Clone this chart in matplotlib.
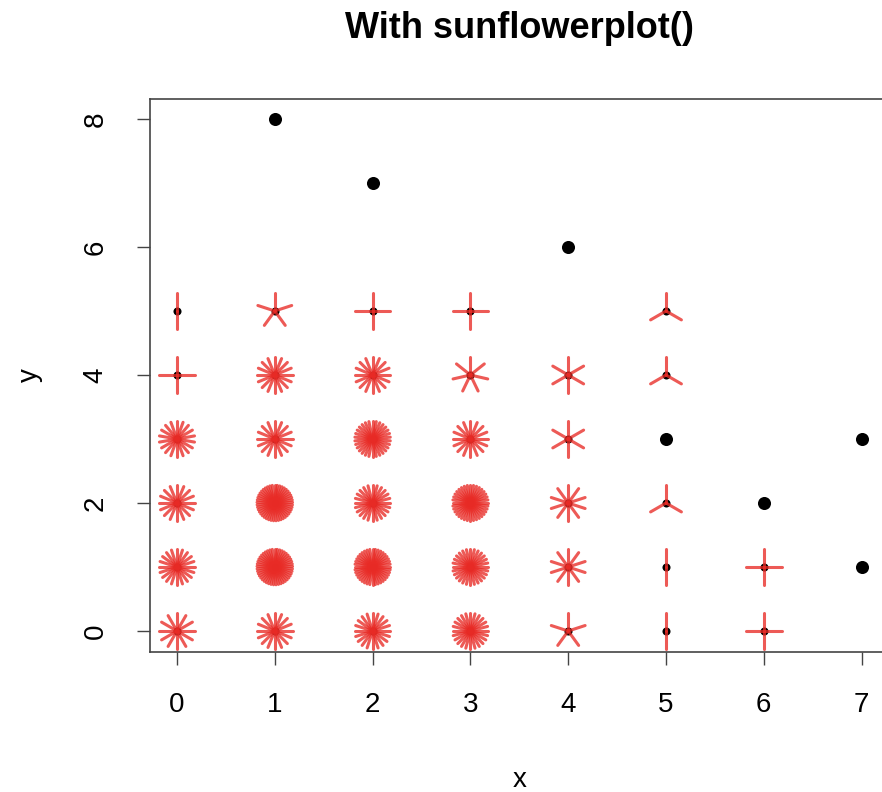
import numpy as np
import matplotlib
matplotlib.use("Agg")
import matplotlib.pyplot as plt
from matplotlib.collections import LineCollection
import matplotlib.transforms as mtransforms

plt.rcParams['font.family'] = ['Liberation Sans', 'DejaVu Sans']

# data: (x, y, count)
xs     = [0, 1, 2, 3, 4, 5, 6,
          0, 1, 2, 3, 4, 5, 6, 7,
          0, 1, 2, 3, 4, 5, 6,
          0, 1, 2, 3, 4, 5, 7,
          0, 1, 2, 3, 4, 5,
          0, 1, 2, 3, 5,
          4, 2, 1]
ys     = [0, 0, 0, 0, 0, 0, 0,
          1, 1, 1, 1, 1, 1, 1, 1,
          2, 2, 2, 2, 2, 2, 2,
          3, 3, 3, 3, 3, 3, 3,
          4, 4, 4, 4, 4, 4,
          5, 5, 5, 5, 5,
          6, 7, 8]
counts = [12, 16, 20, 24, 5, 2, 4,
          20, 45, 40, 28, 10, 2, 4, 1,
          16, 45, 24, 36, 10, 3, 1,
          18, 16, 30, 16, 6, 1, 1,
          4, 16, 16, 7, 6, 3,
          2, 5, 4, 4, 3,
          1, 1, 1]
x_ticks = [0, 1, 2, 3, 4, 5, 6, 7]
y_ticks = [0, 2, 4, 6, 8]
title = "With sunflowerplot()"

W, H = 882, 792
fig = plt.figure(figsize=(W / 100, H / 100), dpi=100)
left, right, top, bottom = 149.6, 889.0, 98.5, 651.5
ax = fig.add_axes([left / W, 1 - bottom / H, (right - left) / W, (bottom - top) / H])

ax.set_xlim(-0.28, 7.28)
ax.set_ylim(-0.32, 8.32)

xs_a = np.array(xs, float)
ys_a = np.array(ys, float)
cn = np.array(counts)

single = cn == 1
ax.plot(xs_a[single], ys_a[single], 'o', color='black', ms=9.4, mew=0, zorder=3)
ax.plot(xs_a[~single], ys_a[~single], 'o', color='black', ms=5.8, mew=0, zorder=3)

petal_len = 12.8  # points
segs = []
offs = []
for x, y, n in zip(xs_a, ys_a, cn):
    if n < 2:
        continue
    for k in range(1, n + 1):
        a = 2 * np.pi * k / n
        segs.append([(0, 0), (petal_len * np.sin(a), petal_len * np.cos(a))])
        offs.append((x, y))
pt_trans = mtransforms.Affine2D().scale(fig.dpi / 72.0)
lc = LineCollection(segs, offsets=offs, offset_transform=ax.transData,
                    transform=pt_trans, colors=[(0.91, 0.17, 0.15, 0.78)],
                    linewidths=2.2, capstyle='round', zorder=4)
ax.add_collection(lc)

for s in ax.spines.values():
    s.set_color('#444444')
    s.set_linewidth(1.2)

ax.set_xticks(x_ticks)
ax.set_yticks(y_ticks)
ax.set_xticklabels([str(v) for v in x_ticks])
ax.set_yticklabels([str(v) for v in y_ticks], rotation=90, va='center')
ax.tick_params(axis='both', direction='out', length=9.5, width=1.0, color='#444444',
               labelsize=20, pad=20)

fig.text((left + right) / 2 / W, 1 - 29 / H, title, ha='center', va='center',
         fontsize=26, fontweight='bold')
fig.text((left + right) / 2 / W, 1 - 780 / H, 'x', ha='center', va='center', fontsize=20)
fig.text(30 / W, 1 - 375 / H, 'y', ha='center', va='center', fontsize=20, rotation=90)

fig.savefig('out.png', dpi=100)
